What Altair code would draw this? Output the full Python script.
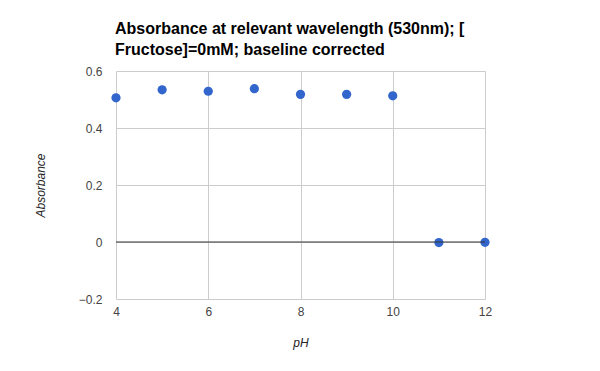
import altair as alt
import pandas as pd

ph = [4, 5, 6, 7, 8, 9, 10, 11, 12]
absorbance = [0.506, 0.534, 0.529, 0.538, 0.518, 0.518, 0.513, -0.002, -0.001]

df = pd.DataFrame({"pH": ph, "Absorbance": absorbance})
zero = pd.DataFrame({"y": [0]})

FONT = "Liberation Sans"

x = alt.X("pH:Q", title="pH",
          scale=alt.Scale(domain=[4, 12], nice=False, zero=False),
          axis=alt.Axis(values=[4, 6, 8, 10, 12], format="d", grid=True,
                        gridColor="#cccccc", domain=False, ticks=False,
                        labelFlush=False,
                        labelPadding=7, labelFontSize=12, labelColor="#444444",
                        labelFont=FONT, titleFont=FONT, titleFontSize=12,
                        titleFontStyle="italic", titleFontWeight="normal",
                        titleColor="#222222", titlePadding=20))
y = alt.Y("Absorbance:Q", title="Absorbance",
          scale=alt.Scale(domain=[-0.2, 0.6], nice=False, zero=False),
          axis=alt.Axis(values=[-0.2, 0, 0.2, 0.4, 0.6], grid=True,
                        gridColor="#cccccc", domain=False, ticks=False,
                        labelFlush=False,
                        labelExpr="datum.value == 0 ? '0' : format(datum.value, '.1f')",
                        labelPadding=14, labelFontSize=12, labelColor="#444444",
                        labelFont=FONT, titleFont=FONT, titleFontSize=12,
                        titleFontStyle="italic", titleFontWeight="normal",
                        titleColor="#222222", titlePadding=31))

rule = alt.Chart(zero).mark_rule(color="#333333", strokeWidth=1).encode(
    y=alt.Y("y:Q", scale=alt.Scale(domain=[-0.2, 0.6], nice=False, zero=False))
)

points = alt.Chart(df).mark_circle(size=85, color="#3366cc", opacity=1).encode(x=x, y=y)

chart = alt.layer(points, rule).properties(
    width=369,
    height=228,
    title=alt.TitleParams(
        text=["Absorbance at relevant wavelength (530nm); [", "Fructose]=0mM; baseline corrected"],
        anchor="start", font=FONT, fontSize=16, fontWeight="bold",
        color="#000000", lineHeight=21, offset=7, frame="group", dx=-1,
    ),
    padding={"left": 108, "top": 63, "right": 107, "bottom": 64},
    autosize="none",
).configure_view(stroke=None)

chart.save("out.html", embed_options={"renderer": "svg", "actions": False})
